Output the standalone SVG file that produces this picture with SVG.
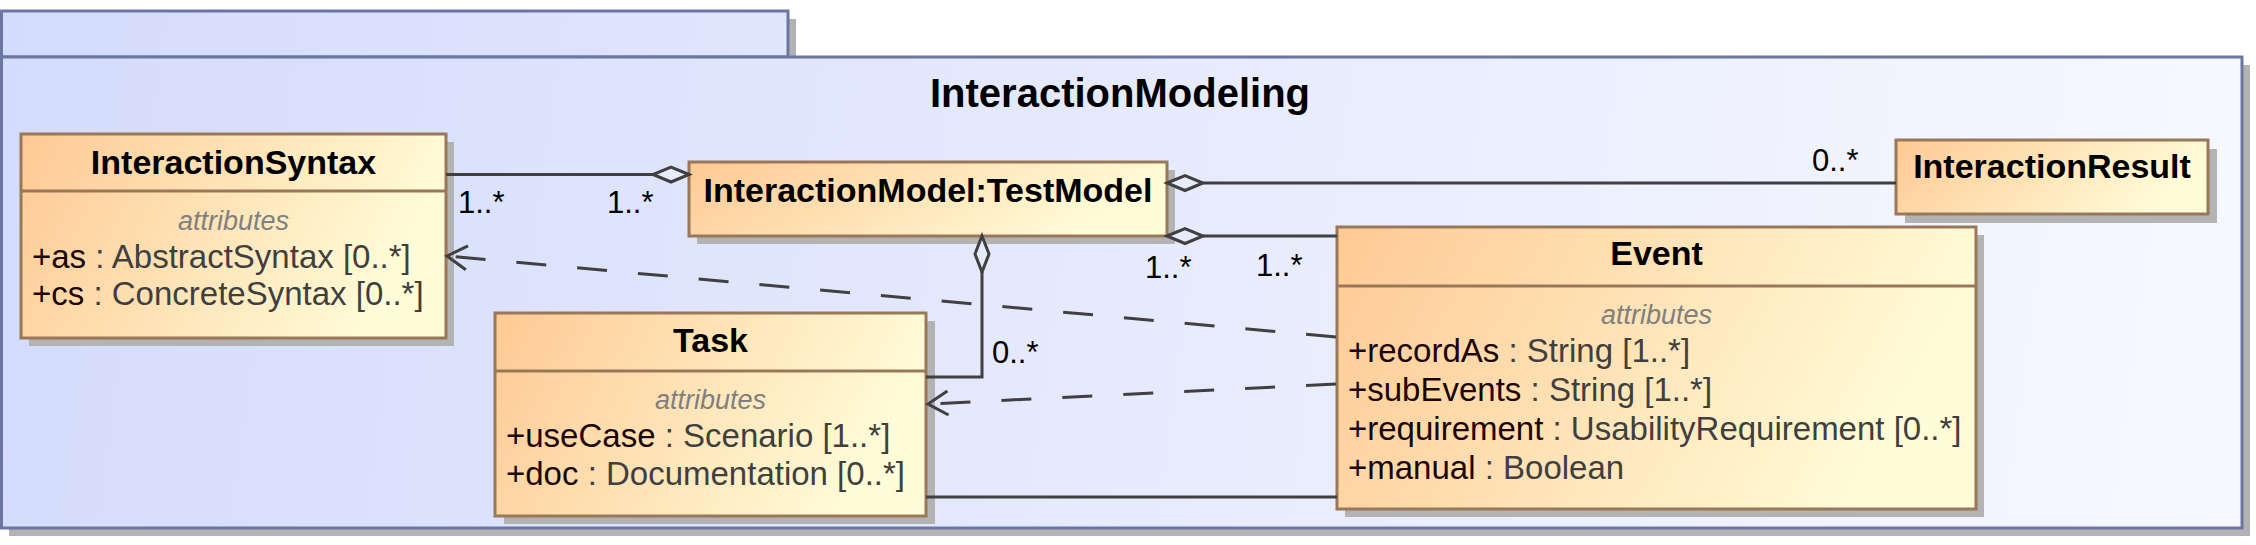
<svg xmlns="http://www.w3.org/2000/svg" width="2256" height="545" viewBox="0 0 2256 545">
<style>
.pkg{fill:url(#pkgGrad);stroke:#6b77a0;stroke-width:3}
.shadow{fill:#b3b3b3}
.box{fill:url(#clsGrad);stroke:#987858;stroke-width:3}
.div{stroke:#987858;stroke-width:3}
.title{font-family:"Liberation Sans",Arial,Helvetica,sans-serif;font-weight:bold;font-size:40px;fill:#000;text-anchor:middle}
.cname{font-family:"Liberation Sans",Arial,Helvetica,sans-serif;font-weight:bold;font-size:34px;fill:#000;text-anchor:middle}
.sect{font-family:"Liberation Sans",Arial,Helvetica,sans-serif;font-style:italic;font-size:27px;fill:#808080;text-anchor:middle}
.attr{font-family:"Liberation Sans",Arial,Helvetica,sans-serif;font-size:33px;fill:#3f3f3f}
.an{fill:#1a0500}
.mult{font-family:"Liberation Sans",Arial,Helvetica,sans-serif;font-size:31px;fill:#000}
.line{fill:none;stroke:#404040;stroke-width:3}
.dash{fill:none;stroke:#404040;stroke-width:3;stroke-dasharray:30 31}
.dia{fill:#e6ebfd;stroke:#404040;stroke-width:3;stroke-linejoin:miter}
</style>
<defs>
<linearGradient id="pkgGrad" gradientUnits="userSpaceOnUse" x1="0" y1="0" x2="2242" y2="300">
<stop offset="0" stop-color="#d4dcfc"/>
<stop offset="1" stop-color="#f7f8ff"/>
</linearGradient>
<linearGradient id="clsGrad" x1="0" y1="0" x2="1" y2="0.25">
<stop offset="0" stop-color="#ffc994"/>
<stop offset="1" stop-color="#fffcd8"/>
</linearGradient>
<marker id="openArrow" markerUnits="userSpaceOnUse" viewBox="-24 -15 27 30" refX="0" refY="0" markerWidth="27" markerHeight="30" orient="auto">
<path d="M-20,-12 L0,0 L-20,12" fill="none" stroke="#404040" stroke-width="3" stroke-dasharray="none"/>
</marker>
</defs>

<g id="package-InteractionModeling">
<rect class="shadow" x="9" y="19" width="787" height="46"/>
<rect class="shadow" x="9" y="65" width="2241" height="471"/>
<rect class="pkg" x="1.5" y="11" width="786.5" height="46"/>
<rect class="pkg" x="1.5" y="57" width="2240.5" height="471"/>
<text class="title" x="1120" y="107">InteractionModeling</text>
</g>

<g id="node-InteractionSyntax">
<rect class="shadow" x="29" y="142" width="425" height="204"/>
<rect class="box" x="21" y="134" width="425" height="204"/>
<line class="div" x1="21" y1="191" x2="446" y2="191"/>
<text class="cname" x="233.5" y="174">InteractionSyntax</text>
<text class="sect" x="233.5" y="230">attributes</text>
<text class="attr" x="32" y="268"><tspan class="an">+as</tspan> : AbstractSyntax [0..*]</text>
<text class="attr" x="32" y="305"><tspan class="an">+cs</tspan> : ConcreteSyntax [0..*]</text>
</g>

<g id="node-InteractionModel">
<rect class="shadow" x="697" y="170" width="478" height="74"/>
<rect class="box" x="689" y="162" width="478" height="74"/>
<text class="cname" x="928" y="202">InteractionModel:TestModel</text>
</g>

<g id="node-InteractionResult">
<rect class="shadow" x="1905" y="149" width="312" height="74"/>
<rect class="box" x="1896" y="140" width="312" height="74"/>
<text class="cname" x="2052" y="178">InteractionResult</text>
</g>

<g id="node-Task">
<rect class="shadow" x="504" y="321" width="431" height="203"/>
<rect class="box" x="495" y="313" width="431" height="203"/>
<line class="div" x1="495" y1="371" x2="926" y2="371"/>
<text class="cname" x="710.5" y="352">Task</text>
<text class="sect" x="710.5" y="409">attributes</text>
<text class="attr" x="506" y="447"><tspan class="an">+useCase</tspan> : Scenario [1..*]</text>
<text class="attr" x="506" y="485"><tspan class="an">+doc</tspan> : Documentation [0..*]</text>
</g>

<g id="node-Event">
<rect class="shadow" x="1345" y="235" width="639" height="282"/>
<rect class="box" x="1337" y="227" width="639" height="282"/>
<line class="div" x1="1337" y1="286" x2="1976" y2="286"/>
<text class="cname" x="1656.5" y="265">Event</text>
<text class="sect" x="1656.5" y="324">attributes</text>
<text class="attr" x="1348" y="362"><tspan class="an">+recordAs</tspan> : String [1..*]</text>
<text class="attr" x="1348" y="401"><tspan class="an">+subEvents</tspan> : String [1..*]</text>
<text class="attr" x="1348" y="440"><tspan class="an">+requirement</tspan> : UsabilityRequirement [0..*]</text>
<text class="attr" x="1348" y="479"><tspan class="an">+manual</tspan> : Boolean</text>
</g>

<g id="connectors">
<path class="line" d="M446,174.5 H653"/>
<polygon class="dia" points="689,174.5 671,167 653,174.5 671,182"/>
<text class="mult" x="458" y="213">1..*</text>
<text class="mult" x="607" y="213">1..*</text>

<path class="line" d="M1203,183 H1896"/>
<polygon class="dia" points="1167,183 1185,175.5 1203,183 1185,190.5"/>
<text class="mult" x="1812" y="171">0..*</text>

<path class="line" d="M1203,236 H1337"/>
<polygon class="dia" points="1167,236 1185,228.5 1203,236 1185,243.5"/>
<text class="mult" x="1145" y="278">1..*</text>
<text class="mult" x="1256" y="276">1..*</text>

<path class="line" d="M982,272 V377 H926"/>
<polygon class="dia" points="982,236 989,254 982,272 975,254"/>
<text class="mult" x="992" y="363">0..*</text>

<path class="line" d="M926,497 H1337"/>

<path class="dash" d="M1336,337 L447,256" marker-end="url(#openArrow)"/>
<path class="dash" d="M1336,384 L928,404" marker-end="url(#openArrow)"/>
</g>
</svg>
